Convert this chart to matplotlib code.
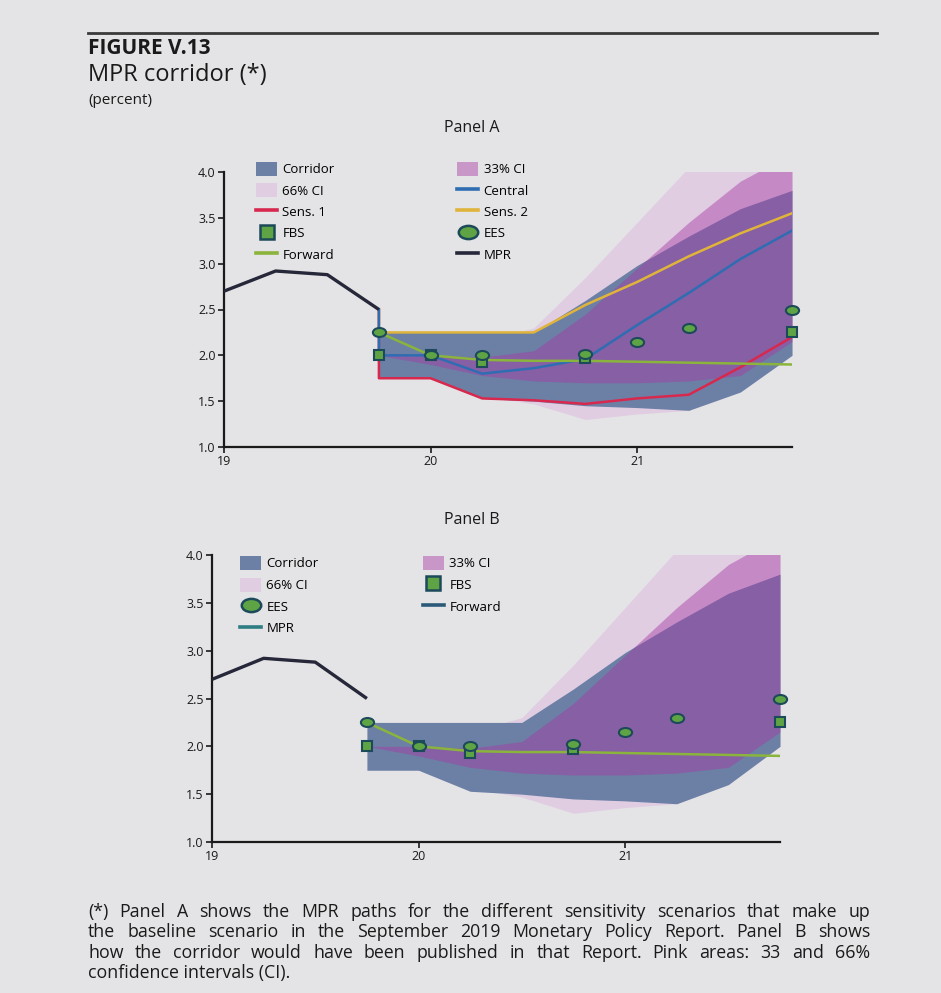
import matplotlib
matplotlib.use("Agg")
import matplotlib.pyplot as plt
from matplotlib.lines import Line2D
from matplotlib.patches import Patch
from matplotlib.path import Path
from matplotlib.transforms import Affine2D

plt.rcParams['font.family'] = ['Open Sans', 'DejaVu Sans']

# history of the policy rate
mpr_x = [19.0, 19.25, 19.5, 19.75]
mpr = [2.70, 2.92, 2.88, 2.50]

# projection quarters
q = [19.75, 20.0, 20.25, 20.5, 20.75, 21.0, 21.25, 21.5, 21.75]

corr_lo = [1.75, 1.75, 1.53, 1.50, 1.45, 1.43, 1.40, 1.60, 2.00]
corr_hi = [2.25, 2.25, 2.25, 2.25, 2.60, 2.98, 3.30, 3.60, 3.80]
ci66_lo = [2.00, 1.80, 1.56, 1.47, 1.30, 1.36, 1.40, 1.60, 2.00]
ci66_hi = [2.00, 2.10, 2.15, 2.30, 2.85, 3.45, 4.05, 4.50, 4.70]
ci33_lo = [2.00, 1.90, 1.78, 1.72, 1.70, 1.70, 1.72, 1.78, 2.15]
ci33_hi = [2.00, 2.00, 1.98, 2.05, 2.45, 2.95, 3.45, 3.90, 4.20]

central = [2.00, 2.00, 1.80, 1.86, 1.96, 2.33, 2.68, 3.05, 3.36]
sens1 = [1.75, 1.75, 1.53, 1.51, 1.47, 1.53, 1.57, 1.87, 2.20]
sens2 = [2.25, 2.25, 2.25, 2.25, 2.55, 2.80, 3.08, 3.33, 3.55]
forward = [2.25, 2.00, 1.95, 1.94, 1.94, 1.93, 1.92, 1.91, 1.90]

fbs_x = [19.75, 20.0, 20.25, 20.75, 21.75]
fbs = [2.00, 2.00, 1.93, 1.97, 2.25]
ees_x = [19.75, 20.0, 20.25, 20.75, 21.0, 21.25, 21.75]
ees = [2.25, 2.00, 2.00, 2.02, 2.15, 2.30, 2.50]

xticks = [19, 20, 21]
yticks = [1.0, 1.5, 2.0, 2.5, 3.0, 3.5, 4.0]

caption = [
    "(*) Panel A shows the MPR paths for the different sensitivity scenarios that make up",
    "the baseline scenario in the September 2019 Monetary Policy Report. Panel B shows",
    "how the corridor would have been published in that Report. Pink areas:  33 and 66%",
    "confidence intervals (CI).",
]

BG = '#e4e4e6'
TXT = '#1a1a1a'
C_CORR = '#6c80a6'
C_66 = '#e0cde2'
C_33 = '#a637a3'
A_33 = 0.45
C_MPR = '#26283a'
C_CEN = '#2f6db3'
C_S1 = '#d8284e'
C_S2 = '#e0b43a'
C_FWD = '#8ab43c'
M_FACE = '#5fa444'
M_EDGE = '#1c4a5a'

ellipse = Path.unit_circle().transformed(Affine2D().scale(1.0, 0.68))

W, H = 941, 993
fig = plt.figure(figsize=(W / 100, H / 100), dpi=100)
fig.patch.set_facecolor(BG)


def fx(px):
    return px / W


def fy(py):
    return 1 - py / H


def draw_panel(ax, lines):
    ax.set_facecolor('none')
    ax.fill_between(q, ci66_lo, ci66_hi, color=C_66, lw=0, zorder=1)
    ax.fill_between(q, corr_lo, corr_hi, color=C_CORR, lw=0, zorder=2)
    ax.fill_between(q, ci33_lo, ci33_hi, color=C_33, alpha=A_33, lw=0, zorder=3)
    if lines:
        ax.plot([19.75] + q, [2.5] + sens2, color=C_S2, lw=1.8, zorder=4)
        ax.plot([19.75] + q, [2.5] + sens1, color=C_S1, lw=1.8, zorder=4)
        ax.plot([19.75] + q, [2.5] + central, color=C_CEN, lw=1.8, zorder=4)
    ax.plot(q, forward, color=C_FWD, lw=1.8, zorder=5)
    ax.plot(mpr_x, mpr, color=C_MPR, lw=2.4, zorder=5, solid_capstyle='butt')
    ax.plot(fbs_x, fbs, ls='none', marker='s', ms=7.5, mfc=M_FACE, mec=M_EDGE,
            mew=1.5, zorder=6, clip_on=False)
    ax.plot(ees_x, ees, ls='none', marker=ellipse, ms=9.5, mfc=M_FACE, mec=M_EDGE,
            mew=1.5, zorder=7, clip_on=False)

    ax.set_xlim(19, 21.75)
    ax.set_ylim(1.0, 4.0)
    ax.set_xticks(xticks)
    ax.set_xticklabels([str(t) for t in xticks])
    ax.set_yticks(yticks)
    ax.set_yticklabels([f"{t:.1f}" for t in yticks])
    for s in ['top', 'right']:
        ax.spines[s].set_visible(False)
    for s in ['left', 'bottom']:
        ax.spines[s].set_linewidth(1.6)
        ax.spines[s].set_color(TXT)
    ax.tick_params(axis='both', direction='out', length=4, width=1.2,
                   labelsize=9, colors=TXT, pad=2)


def patch(c, a=1.0):
    return Patch(facecolor=c, alpha=a, edgecolor='none')


def line(c, lw=2.6):
    return Line2D([], [], color=c, lw=lw)


sq = Line2D([], [], ls='none', marker='s', ms=10, mfc=M_FACE, mec=M_EDGE, mew=1.8)
ci = Line2D([], [], ls='none', marker=ellipse, ms=14, mfc=M_FACE, mec=M_EDGE, mew=1.8)

leg_kw = dict(ncol=2, loc='upper left', bbox_transform=fig.transFigure,
              frameon=False, fontsize=9.5, handlelength=1.6, handleheight=1.25,
              handletextpad=0.4, borderaxespad=0, borderpad=0)

# Panel A
axA = fig.add_axes([fx(224), fy(447), fx(792) - fx(224), fy(172) - fy(447)])
draw_panel(axA, True)
hA = [patch(C_CORR), patch(C_66), line(C_S1), sq, line(C_FWD),
      patch(C_33, A_33), line(C_CEN), line(C_S2), ci, line(C_MPR)]
lA = ['Corridor', '66% CI', 'Sens. 1', 'FBS', 'Forward',
      '33% CI', 'Central', 'Sens. 2', 'EES', 'MPR']
axA.legend(hA, lA, bbox_to_anchor=(fx(256), fy(162)), labelspacing=0.52,
           columnspacing=9.3, **leg_kw)

# Panel B
axB = fig.add_axes([fx(212), fy(842), fx(780) - fx(212), fy(555) - fy(842)])
draw_panel(axB, False)
hB = [patch(C_CORR), patch(C_66), ci, line('#2e7d83'),
      patch(C_33, A_33), sq, line('#2b5a78')]
lB = ['Corridor', '66% CI', 'EES', 'MPR', '33% CI', 'FBS', 'Forward']
axB.legend(hB, lB, bbox_to_anchor=(fx(240), fy(556)), labelspacing=0.55,
           columnspacing=7.9, **leg_kw)

# header
fig.add_artist(Line2D([fx(88), fx(877)], [fy(33), fy(33)], color='#3a3a3a', lw=2))
fig.text(fx(88), fy(48), 'FIGURE V.13', weight='bold', size=15, va='center', color=TXT)
fig.text(fx(88), fy(75), 'MPR corridor (*)', size=17, va='center', color=TXT)
fig.text(fx(88), fy(100), '(percent)', size=11, va='center', color=TXT)
fig.text(fx(472), fy(128), 'Panel A', size=11.5, ha='center', va='center', color=TXT)
fig.text(fx(472), fy(520), 'Panel B', size=11.5, ha='center', va='center', color=TXT)

# caption, justified between x=88 and x=870
renderer = fig.canvas.get_renderer()
left, right = 88, 870
for i, txt in enumerate(caption):
    y = fy(912 + i * 20.3)
    words = txt.split()
    if i == len(caption) - 1:
        fig.text(fx(left), y, txt, size=12.8, va='center', color=TXT)
        continue
    arts = [fig.text(0, y, w, size=12.8, va='center', color=TXT) for w in words]
    widths = [a.get_window_extent(renderer).width for a in arts]
    gap = (right - left - sum(widths)) / (len(words) - 1)
    x = left
    for a, w in zip(arts, widths):
        a.set_x(fx(x))
        x += w + gap

fig.savefig('out.png', dpi=100, facecolor=BG)
